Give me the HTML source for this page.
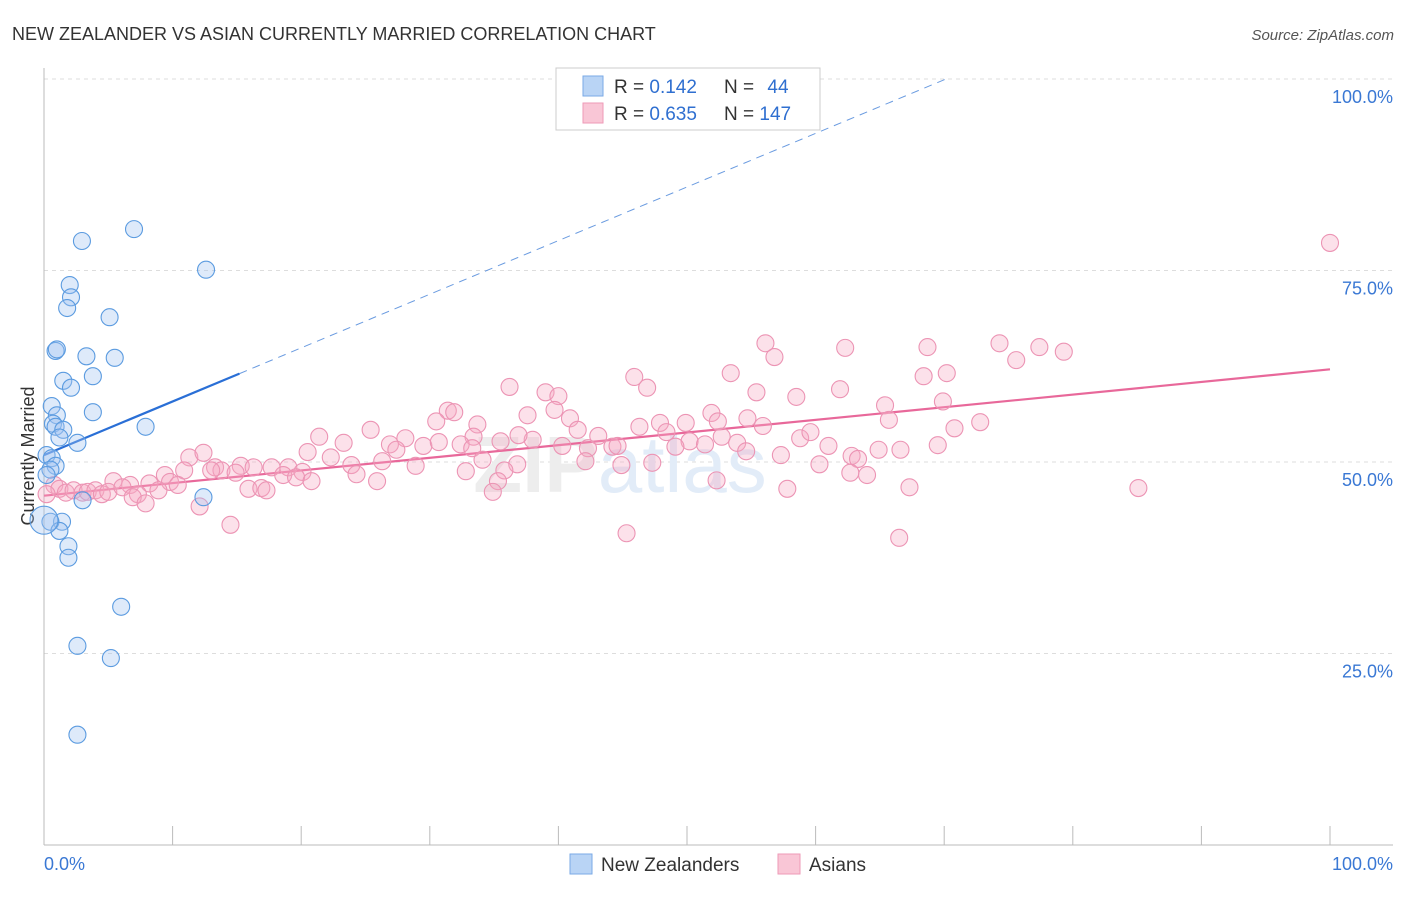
<!DOCTYPE html>
<html><head><meta charset="utf-8"><style>
body{margin:0;background:#fff;font-family:"Liberation Sans",sans-serif;}
svg text{font-family:"Liberation Sans",sans-serif;}
</style></head><body>
<svg width="1406" height="892" viewBox="0 0 1406 892">
<text x="12" y="40" font-size="18" fill="#333">NEW ZEALANDER VS ASIAN CURRENTLY MARRIED CORRELATION CHART</text>
<text x="1394" y="40" font-size="15" fill="#555" font-style="italic" text-anchor="end">Source: ZipAtlas.com</text>
<text x="0" y="0" font-size="18" fill="#333" transform="translate(34,456) rotate(-90)" text-anchor="middle">Currently Married</text>
<g id="grid"></g>
<text x="620" y="492" font-size="80" font-weight="bold" fill="#ededed" text-anchor="middle">ZIP<tspan fill="#e2ecf8" font-weight="normal">atlas</tspan></text>
<g id="lines"></g>
<g id="points"></g>
<g>
<rect x="556" y="68" width="264" height="62" fill="#fff" stroke="#ccc"/>
<rect x="583" y="76" width="20" height="20" fill="#b9d4f5" stroke="#7aaae6"/>
<rect x="583" y="103" width="20" height="20" fill="#f9c6d6" stroke="#ee9ab7"/>
<text x="614" y="93" font-size="19" fill="#333">R = <tspan fill="#2f6fd0">0.142</tspan></text>
<text x="724" y="93" font-size="19" fill="#333">N = <tspan fill="#2f6fd0" dx="8">44</tspan></text>
<text x="614" y="120" font-size="19" fill="#333">R = <tspan fill="#2f6fd0">0.635</tspan></text>
<text x="724" y="120" font-size="19" fill="#333">N = <tspan fill="#2f6fd0">147</tspan></text>
</g>
<g>
<rect x="570" y="854" width="22" height="20" fill="#b9d4f5" stroke="#7aaae6"/>
<text x="601" y="871" font-size="19" fill="#333">New Zealanders</text>
<rect x="778" y="854" width="22" height="20" fill="#f9c6d6" stroke="#ee9ab7"/>
<text x="809" y="871" font-size="19" fill="#333">Asians</text>
</g>
</svg>
<script>
const blueX=[2.95,7.0,12.6,2.0,2.1,1.8,5.1,0.9,1.0,3.3,5.5,3.8,1.5,2.1,0.6,3.8,1.0,0.7,0.9,1.5,7.9,1.2,2.6,0.2,0.6,0.9,0.5,0.2,3.0,12.4,1.4,0.5,1.2,1.9,1.9,6.0,2.6,5.2,2.6,0];
const blueY=[78.85,80.4,75.1,73.1,71.5,70.1,68.9,64.5,64.7,63.8,63.6,61.2,60.6,59.7,57.3,56.5,56.1,55.0,54.6,54.2,54.6,53.2,52.5,50.9,50.5,49.5,49.0,48.3,45.0,45.4,42.2,42.2,41.0,39.0,37.5,31.1,26.0,24.4,14.4,42.4];
const pinkX=[100,56.1,62.3,68.7,74.3,77.4,79.3,75.6,56.8,45.9,46.9,53.4,68.4,70.2,36.2,39.0,40.0,55.4,58.5,61.9,69.9,65.4,31.4,31.9,37.6,39.7,40.9,33.7,30.5,51.9,54.7,47.9,49.9,52.4,65.7,72.8,70.8,21.4,25.4,28.1,33.4,35.5,38.0,41.5,43.1,44.2,46.3,48.4,50.2,51.4,52.7,53.9,55.9,58.8,59.6,61.0,62.8,64.9,66.6,69.5,23.3,20.5,26.9,27.4,29.5,30.7,32.4,33.3,36.9,40.3,42.3,44.6,49.1,54.6,57.3,63.3,11.3,12.4,22.3,23.9,26.3,28.9,34.1,36.8,42.1,44.9,47.3,60.3,10.9,13.3,13.8,15.3,16.3,17.7,19.0,20.1,24.3,32.8,35.8,9.4,13.0,14.9,18.6,19.6,20.8,8.2,9.8,10.4,5.4,6.7,7.3,8.9,15.9,16.9,17.3,25.9,35.3,62.7,64.0,52.3,67.3,85.1,0.8,1.2,1.7,2.3,3.0,3.4,4.0,4.5,5.0,6.1,6.9,7.9,12.1,14.5,34.9,45.3,66.5,57.8,0.2];
const pinkY=[78.6,65.5,64.9,65.0,65.5,65.0,64.4,63.3,63.7,61.1,59.7,61.6,61.2,61.6,59.8,59.1,58.6,59.1,58.5,59.5,57.9,57.4,56.7,56.5,56.1,56.8,55.7,54.9,55.3,56.4,55.7,55.1,55.1,55.3,55.5,55.2,54.4,53.3,54.2,53.1,53.3,52.7,52.9,54.2,53.4,52.0,54.6,53.9,52.7,52.3,53.3,52.5,54.7,53.1,53.9,52.1,50.8,51.6,51.6,52.2,52.5,51.3,52.3,51.6,52.1,52.6,52.3,51.8,53.5,52.1,51.8,52.1,52.0,51.4,50.9,50.4,50.6,51.2,50.6,49.6,50.1,49.5,50.3,49.7,50.1,49.6,49.9,49.7,48.9,49.3,48.9,49.5,49.3,49.3,49.3,48.7,48.4,48.8,48.9,48.3,48.9,48.6,48.3,48.0,47.5,47.2,47.4,47.0,47.5,47.0,45.8,46.3,46.5,46.6,46.3,47.5,47.5,48.6,48.3,47.6,46.7,46.6,47.0,46.5,46.0,46.3,46.0,46.1,46.3,45.8,46.1,46.7,45.4,44.6,44.2,41.8,46.1,40.7,40.1,46.5,45.8];
const yTicks=[100,75,50,25];
const yTickLabels=["100.0%","75.0%","50.0%","25.0%"];
const blueFit=[50.9,0.70];
const pinkFit=[45.6,0.165];
const NS="http://www.w3.org/2000/svg";
const sx=v=>44+v*12.86, sy=v=>845-v*7.66;
function mk(t,a,p){const e=document.createElementNS(NS,t);for(const k in a)e.setAttribute(k,a[k]);p.appendChild(e);return e;}
const grid=document.getElementById('grid');
yTicks.forEach((t,i)=>{
 const l=mk('line',{x1:44,x2:1393,y1:sy(t),y2:sy(t),stroke:'#ddd','stroke-dasharray':'4,4'},grid);
 
 
 const tx=mk('text',{x:1393,y:sy(t)+24,'font-size':18,fill:'#3a78d4','text-anchor':'end'},grid);
 tx.textContent=yTickLabels[i];
 
 
});
const ax=mk('line',{x1:44,x2:1393,y1:845,y2:845,stroke:'#bbb'},grid);


const ay=mk('line',{x1:44,x2:44,y1:68,y2:845,stroke:'#bbb'},grid);


for(let i=0;i<=10;i++){const t=mk('line',{x1:sx(i*10),x2:sx(i*10),y1:826,y2:845,stroke:'#bbb'},grid);
 
 }
[[0,'0.0%','start',44],[100,'100.0%','end',1393]].forEach(d=>{const t=mk('text',{x:d[3],y:870,'font-size':18,fill:'#3a78d4','text-anchor':d[2]},grid);t.textContent=d[1];
 
 });
const pts=document.getElementById('points');
pinkX.forEach((x,i)=>{const c=mk('circle',{cx:sx(x),cy:sy(pinkY[i]),r:8.5,fill:'rgba(245,170,195,0.35)',stroke:'#ec94b4','stroke-width':1.1},pts);
 
 });
blueX.forEach((x,i)=>{const c=mk('circle',{cx:sx(x),cy:sy(blueY[i]),r:i==blueX.length-1?14:8.5,fill:'rgba(160,196,240,0.35)',stroke:'#5b9be0','stroke-width':1.1},pts);
 
 });
const ln=document.getElementById('lines');
const f=(p,x)=>p[0]+p[1]*x;
const bs=mk('line',{x1:sx(0),y1:sy(f(blueFit,0)),x2:sx(15.2),y2:sy(f(blueFit,15.2)),stroke:'#2a6fd6','stroke-width':2.2},ln);


const xe=(100-blueFit[0])/blueFit[1];
const bd=mk('line',{x1:sx(15.2),y1:sy(f(blueFit,15.2)),x2:sx(xe),y2:sy(100),stroke:'#6a9be0','stroke-width':1,'stroke-dasharray':'8,6'},ln);


const pl=mk('line',{x1:sx(0),y1:sy(f(pinkFit,0)),x2:sx(100),y2:sy(f(pinkFit,100)),stroke:'#e8689a','stroke-width':2.2},ln);


</script>
</body></html>
